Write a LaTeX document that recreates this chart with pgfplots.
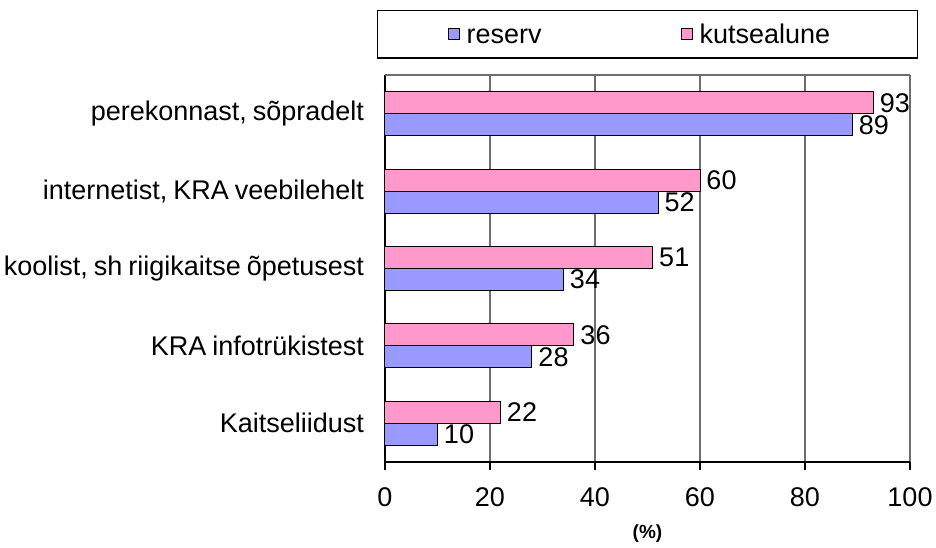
\documentclass[border=0pt]{standalone}
\usepackage{fontspec}
\setmainfont{Liberation Sans}
\usepackage{pgfplots}
\pgfplotsset{compat=1.18}
\definecolor{cres}{RGB}{153,153,255}
\definecolor{ckut}{RGB}{255,153,204}
\definecolor{cgrid}{RGB}{110,110,110}
\newcommand\yfont{\fontsize{13.5}{16}\selectfont\spaceskip=0.22em plus 0.05em\relax}

\begin{document}
\begin{tikzpicture}
  \path[use as bounding box] (-192.5pt,-42.5pt) rectangle (275.5pt,231pt);
  \begin{axis}[at={(0,0)},anchor=south west,scale only axis,
    width=262.5pt,height=193.5pt,
    xbar=0pt,bar width=11pt,clip=false,
    xmin=0,xmax=100,xtick={0,20,...,100},
    ymin=-0.5,ymax=4.5,ytick={0,1,2,3,4},
    minor ytick={-0.5,0.5,...,4.5},
    yticklabels={Kaitseliidust,KRA infotrükistest,{koolist, sh riigikaitse õpetusest},{internetist, KRA veebilehelt},{perekonnast, sõpradelt}},
    axis lines*=left,axis line style={-,black,line width=0.6pt},
    tick align=outside,major tick length=4pt,minor tick length=4pt,
    tick style={black,line width=0.6pt},
    ytick style={draw=none},
    minor tick style={black,line width=0.6pt},
    xmajorgrids,major grid style={cgrid,line width=0.6pt},
    /pgf/number format/assume math mode=true,
    tick label style={font=\fontsize{13.5}{16}\selectfont},
    xticklabel style={yshift=-5.5pt},
    yticklabel style={xshift=-3pt,font=\yfont},
    xlabel={\textbf{(\%)}},xlabel style={font=\fontsize{9.5}{11}\selectfont,yshift=-2pt},
    nodes near coords,
    nodes near coords style={font=\fontsize{13.5}{16}\selectfont,anchor=west,inner sep=1pt,xshift=2pt},
    legend columns=2,
    legend style={at={(-0.01524,1.168)},anchor=north west,draw=black,line width=0.6pt,
      inner xsep=35pt,inner ysep=4pt,
      font=\fontsize{13.5}{16}\selectfont,
      nodes={inner sep=1.5pt},
      /tikz/column 2/.style={column sep=68pt}},
  ]
    \addplot[fill=cres,draw=black,line width=0.5pt,
      legend image code/.code={\draw[fill=cres,draw=black,line width=0.5pt] (0pt,-2.75pt) rectangle (5.5pt,2.75pt);}]
      coordinates {(10,0) (28,1) (34,2) (52,3) (89,4)};
    \addplot[fill=ckut,draw=black,line width=0.5pt,
      legend image code/.code={\draw[fill=ckut,draw=black,line width=0.5pt] (0pt,-2.75pt) rectangle (5.5pt,2.75pt);}]
      coordinates {(22,0) (36,1) (51,2) (60,3) (93,4)};
    \legend{\strut\hspace{2pt}reserv,\strut\hspace{2pt}kutsealune\rule{7pt}{0pt}}
    \draw[cgrid,line width=0.6pt] (rel axis cs:0,1) -- (rel axis cs:1,1);
  \end{axis}
\end{tikzpicture}
\end{document}
